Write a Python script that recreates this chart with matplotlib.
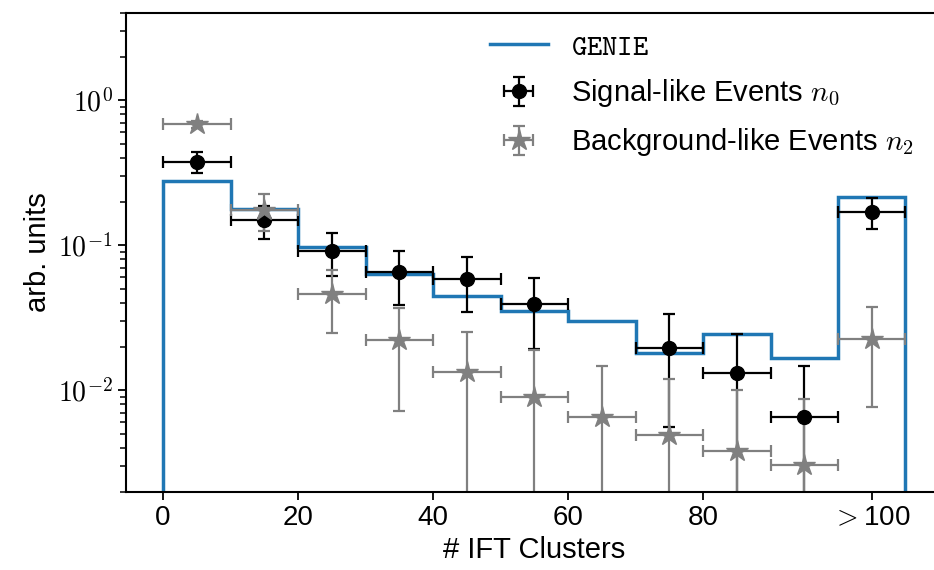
import matplotlib
matplotlib.use("Agg")
import matplotlib.pyplot as plt
import numpy as np

plt.rcParams['font.family'] = ['Liberation Sans', 'DejaVu Sans']
plt.rcParams['mathtext.fontset'] = 'cm'

# bin edges (last bin is the overflow "> 100")
edges = [0, 10, 20, 30, 40, 50, 60, 70, 80, 90, 100, 110]
genie = [0.279, 0.178, 0.098, 0.0637, 0.0445, 0.0351, 0.0299, 0.0180, 0.0245, 0.0168, 0.217]

centers = [5, 15, 25, 35, 45, 55, 75, 85, 95, 105]
signal = [0.377, 0.149, 0.0917, 0.065, 0.0586, 0.0394, 0.0196, 0.0131, 0.00656, 0.171]
signal_err = [0.062, 0.038, 0.030, 0.026, 0.024, 0.020, 0.014, 0.0115, 0.0081, 0.041]

bkg_centers = [5, 15, 25, 35, 45, 55, 65, 75, 85, 95, 105]
background = [0.684, 0.175, 0.0464, 0.0222, 0.0134, 0.00906, 0.00656, 0.00491, 0.00383, 0.00305, 0.0227]
background_err = [0.04, 0.05, 0.0215, 0.015, 0.0118, 0.010, 0.0081, 0.007, 0.0062, 0.0056, 0.015]

xticks = [0, 20, 40, 60, 80, 105]
xticklabels = ['0', '20', '40', '60', '80', r'$>$100']

fig = plt.figure(figsize=(9.34, 5.70), dpi=100)
ax = fig.add_axes([0.1349, 0.1374, 0.8743, 0.8398])

h_genie = ax.stairs(genie, edges, baseline=1e-5, color='#1f77b4', lw=2.5, label=r'$\mathtt{GENIE}$')
h_sig = ax.errorbar(centers, signal, yerr=signal_err, xerr=5, fmt='o', color='black',
                    ms=10, elinewidth=1.6, capsize=4, capthick=1.6,
                    label=r'Signal-like Events $n_0$')
h_bkg = ax.errorbar(bkg_centers, background, yerr=background_err, xerr=5, fmt='*', color='#808080',
                    ms=16, elinewidth=1.6, capsize=4, capthick=1.6,
                    label=r'Background-like Events $n_2$')

ax.set_yscale('log')
ax.set_ylim(2e-3, 4)
ax.set_xlim(-5.5, 115.5)
ax.set_xticks(xticks, labels=xticklabels)
ax.set_yticks([1e-2, 1e-1, 1e0], labels=[r'$10^{-2}$', r'$10^{-1}$', r'$10^{0}$'])
ax.tick_params(labelsize=20, width=1.3, length=6)
ax.tick_params(which='minor', width=1.1, length=4)
for s in ax.spines.values():
    s.set_linewidth(1.5)

ax.set_xlabel('# IFT Clusters', fontsize=21)
ax.set_ylabel('arb. units', fontsize=21)

ax.legend(handles=[h_genie, h_sig, h_bkg], loc='upper right', frameon=False,
          fontsize=21, labelspacing=0.58, bbox_to_anchor=(0.997, 1.014))

fig.savefig('out.png', dpi=100)
